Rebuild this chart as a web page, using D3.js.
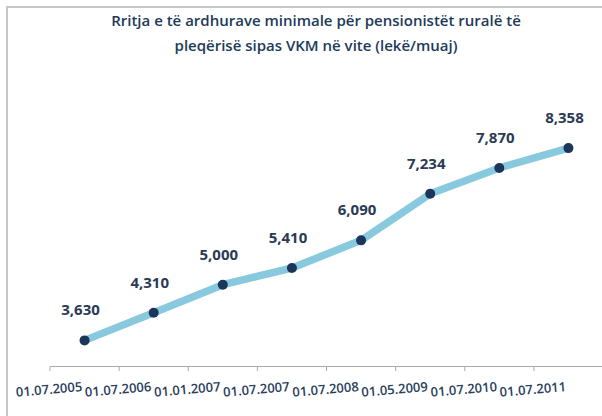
<!DOCTYPE html>
<html>
<head>
<meta charset="utf-8">
<script src="https://cdn.jsdelivr.net/npm/d3@7"></script>
<style>
  body { margin: 0; background: #fff; }
  svg { display: block; }
</style>
</head>
<body>
<svg id="chart" width="602" height="416"></svg>
<script>
// data
const dates = ["01.07.2005", "01.07.2006", "01.01.2007", "01.07.2007",
               "01.07.2008", "01.05.2009", "01.07.2010", "01.07.2011"];
const income = [3630, 4310, 5000, 5410, 6090, 7234, 7870, 8358];
const titleLines = ["Rritja e të ardhurave minimale për pensionistët ruralë të",
                    "pleqërisë sipas VKM në vite (lekë/muaj)"];

const svg = d3.select("#chart");
const points = dates.map((d, i) => ({ date: d, value: income[i] }));

// frame (runs off the right and bottom edge like in the source image)
svg.append("rect")
   .attr("x", 7)
   .attr("y", 7)
   .attr("width", 620)
   .attr("height", 430)
   .attr("fill", "#fff")
   .attr("stroke", "#c6c6c6")
   .attr("stroke-width", 2);

// title
svg.append("text")
   .attr("x", 316)
   .attr("y", 26)
   .attr("text-anchor", "middle")
   .style("font-family", "'Open Sans', sans-serif")
   .style("font-weight", 600)
   .style("font-size", "15px")
   .attr("fill", "#213a5a")
   .selectAll("tspan")
   .data(titleLines)
   .join("tspan")
   .attr("x", 316)
   .attr("dy", (d, i) => i ? 25 : 0)
   .text(d => d);

const xScale = d3.scaleBand()
                 .domain(dates)
                 .range([50, 603]);

const yScale = d3.scaleLinear()
                 .domain([3000, 9000])
                 .range([366, 122]);

// x axis
const xAxis = svg.append("g")
   .attr("transform", "translate(0,366)")
   .call(d3.axisBottom(xScale).tickSize(0).tickFormat(""));
xAxis.select(".domain").attr("stroke", "#a9a9a9");

// tick marks sit on the band edges
svg.append("g")
   .selectAll("line")
   .data(dates.concat(["end"]))
   .join("line")
   .attr("x1", (d, i) => xScale.range()[0] + i * xScale.step())
   .attr("x2", (d, i) => xScale.range()[0] + i * xScale.step())
   .attr("y1", 366)
   .attr("y2", 371)
   .attr("stroke", "#a9a9a9");

// slanted date labels
svg.append("g")
   .selectAll("text")
   .data(dates)
   .join("text")
   .attr("text-anchor", "end")
   .attr("transform", d => "translate(" + (xScale(d) + xScale.bandwidth() / 2 - 2) + ",391) rotate(-5)")
   .style("font-family", "'Open Sans', sans-serif")
   .style("font-weight", 600)
   .style("font-size", "13px")
   .attr("fill", "#2a3d5c")
   .text(d => d);

const cx = d => xScale(d.date) + xScale.bandwidth() / 2;

const line = d3.line()
               .x(cx)
               .y(d => yScale(d.value));

svg.append("path")
   .datum(points)
   .attr("fill", "none")
   .attr("stroke", "#88c9de")
   .attr("stroke-width", 7.5)
   .attr("stroke-linejoin", "round")
   .attr("stroke-linecap", "round")
   .attr("d", line);

svg.append("g")
   .selectAll("circle")
   .data(points)
   .join("circle")
   .attr("cx", cx)
   .attr("cy", d => yScale(d.value))
   .attr("r", 5)
   .attr("fill", "#1b355b");

// value labels
svg.append("g")
   .selectAll("text")
   .data(points)
   .join("text")
   .attr("x", d => cx(d) - 4)
   .attr("y", d => yScale(d.value) - 25)
   .attr("text-anchor", "middle")
   .style("font-family", "'Open Sans', sans-serif")
   .style("font-weight", 700)
   .style("font-size", "15px")
   .attr("fill", "#2b3a55")
   .text(d => d3.format(",")(d.value));
</script>
</body>
</html>
